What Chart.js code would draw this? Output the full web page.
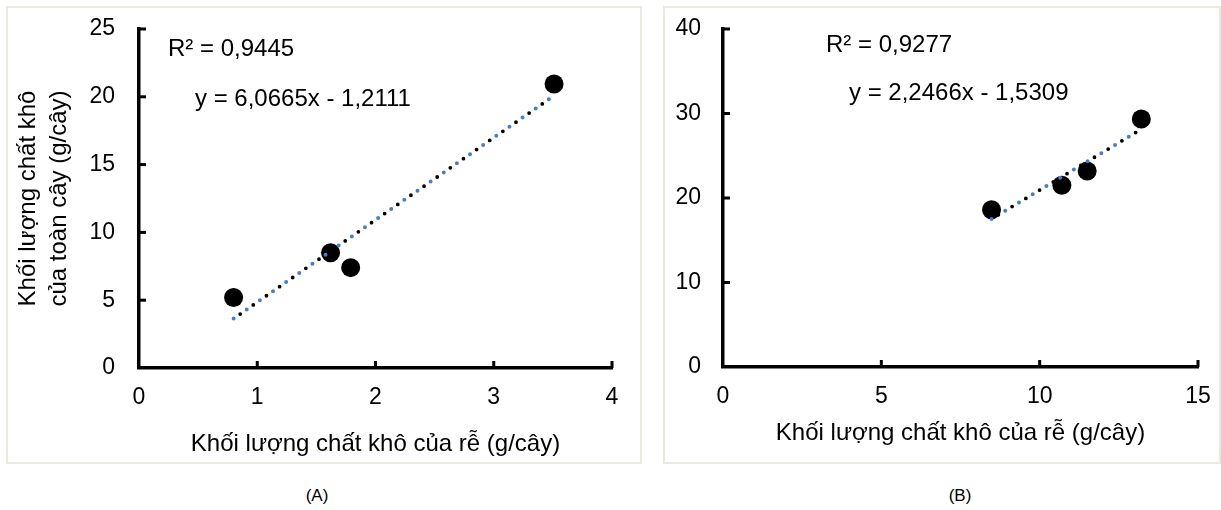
<!DOCTYPE html>
<html><head><meta charset="utf-8">
<script src="https://cdn.jsdelivr.net/npm/chart.js@4"></script>
<style>
body{margin:0;background:#fff;width:1221px;height:510px;position:relative;overflow:hidden;font-family:"Liberation Sans",Arial,sans-serif;}
.panel{position:absolute;border:2px solid #ece9e0;box-sizing:border-box;}
.cv{position:absolute;}
.cap{position:absolute;font-size:17px;transform:translate(-50%,-50%);color:#000;font-family:"Liberation Sans",Arial,sans-serif;}
</style></head><body>
<div class="panel" style="left:6px;top:6px;width:636px;height:458px"></div>
<div class="panel" style="left:663px;top:6px;width:558px;height:458px"></div>
<div class="cv" style="left:0;top:0;"><canvas id="cA" width="650" height="470"></canvas></div>
<div class="cv" style="left:650px;top:0;"><canvas id="cB" width="571" height="470"></canvas></div>
<div class="cap" style="left:317px;top:496px">(A)</div>
<div class="cap" style="left:960px;top:496px">(B)</div>
<script>
// ---- data ----
const rootA = [0.80, 1.62, 1.79, 3.51];
const totalA = [5.2, 8.5, 7.4, 20.95];
const rootB = [8.48, 10.70, 11.50, 13.21];
const totalB = [18.6, 21.5, 23.2, 29.35];
const trendA = [6.0665, -1.2111];   // slope, intercept (shown equation)
const trendB = [2.2466, -1.5309];
const textA = ['R² = 0,9445', 'y = 6,0665x - 1,2111'];
const textB = ['R² = 0,9277', 'y = 2,2466x - 1,5309'];
const xTitle = 'Khối lượng chất khô của rễ (g/cây)';
const yTitleA = ['Khối lượng chất khô', 'của toàn cây (g/cây)'];
const xTicksA = [0, 1, 2, 3, 4];
const yTicksA = [0, 5, 10, 15, 20, 25];
const xTicksB = [0, 5, 10, 15];
const yTicksB = [0, 10, 20, 30, 40];

const FONT = '"Liberation Sans", Arial, sans-serif';

const innerTicks = {
  id: 'innerTicks',
  afterDraw(chart) {
    const {ctx, chartArea, scales} = chart;
    ctx.save();
    ctx.strokeStyle = '#000';
    ctx.lineWidth = 3;
    scales.x.ticks.forEach(t => {
      if (t.value === 0) return;
      const px = scales.x.getPixelForValue(t.value);
      ctx.beginPath(); ctx.moveTo(px, chartArea.bottom); ctx.lineTo(px, chartArea.bottom - 7); ctx.stroke();
    });
    scales.y.ticks.forEach(t => {
      if (t.value === 0) return;
      const py = scales.y.getPixelForValue(t.value);
      ctx.beginPath(); ctx.moveTo(chartArea.left, py); ctx.lineTo(chartArea.left + 7, py); ctx.stroke();
    });
    ctx.restore();
  }
};

const notes = {
  id: 'notes',
  afterDraw(chart, args, opts) {
    const ctx = chart.ctx;
    ctx.save();
    ctx.fillStyle = '#000';
    ctx.font = '24px ' + FONT;
    ctx.textAlign = 'left';
    ctx.textBaseline = 'alphabetic';
    opts.items.forEach(it => ctx.fillText(it.text, it.x, it.y));
    ctx.restore();
  }
};

function build(id, xs, ys, trend, xTicks, yTicks, yTitle, geom, texts) {
  const x0 = Math.min(...xs), x1 = Math.max(...xs);
  const line = [{x: x0, y: trend[0] * x0 + trend[1]}, {x: x1, y: trend[0] * x1 + trend[1]}];
  const tickFont = {family: FONT, size: 23};
  return new Chart(document.getElementById(id), {
    type: 'scatter',
    data: {
      datasets: [
        {data: line, showLine: true, pointRadius: 0, borderColor: '#4a7ec4', borderWidth: 4,
         borderDash: [0, 16], borderDashOffset: 0, borderCapStyle: 'round', order: 1},
        {data: line, showLine: true, pointRadius: 0, borderColor: '#000', borderWidth: 3.8,
         borderDash: [0, 16], borderDashOffset: 8, borderCapStyle: 'round', order: 2},
        {data: xs.map((x, i) => ({x, y: ys[i]})), pointRadius: 9.5, pointHoverRadius: 9.5,
         backgroundColor: '#000', borderWidth: 0, order: 3}
      ]
    },
    options: {
      responsive: false,
      animation: false,
      layout: {padding: {left: 0, top: geom.top, right: geom.right, bottom: 0}},
      plugins: {legend: {display: false}, tooltip: {enabled: false},
        notes: {items: texts}},
      scales: {
        x: {
          type: 'linear', min: xTicks[0], max: xTicks[xTicks.length - 1],
          afterBuildTicks: s => { s.ticks = xTicks.map(v => ({value: v})); },
          afterFit: s => { s.height = geom.xh; s.paddingLeft = 0; s.paddingRight = 0; },
          grid: {display: false, drawTicks: false},
          border: {display: true, width: 3.5, color: '#000'},
          ticks: {color: '#000', font: tickFont, padding: geom.xpad},
          title: {display: true, text: xTitle, color: '#000', font: {family: FONT, size: 24},
                  padding: {top: 0, bottom: geom.xtp}}
        },
        y: {
          type: 'linear', min: yTicks[0], max: yTicks[yTicks.length - 1],
          afterBuildTicks: s => { s.ticks = yTicks.map(v => ({value: v})); },
          afterFit: s => { s.width = geom.yw; s.paddingTop = 0; s.paddingBottom = 0; },
          grid: {display: false, drawTicks: false},
          border: {display: true, width: 3.5, color: '#000'},
          ticks: {color: '#000', font: tickFont, padding: geom.ypad},
          title: {display: !!yTitle, text: yTitle || '', color: '#000',
                  font: {family: FONT, size: 24, lineHeight: 1.3},
                  padding: {top: 13, bottom: 0}}
        }
      }
    },
    plugins: [innerTicks, notes]
  });
}

build('cA', rootA, totalA, trendA, xTicksA, yTicksA, yTitleA,
  {top: 29, right: 38, xh: 102, yw: 139, xpad: 16, ypad: 24, xtp: 11},
  [{text: textA[0], x: 168, y: 56}, {text: textA[1], x: 195, y: 106}]);
build('cB', rootB, totalB, trendB, xTicksB, yTicksB, null,
  {top: 29, right: 23, xh: 103, yw: 73, xpad: 16, ypad: 22, xtp: 22},
  [{text: textB[0], x: 176, y: 52}, {text: textB[1], x: 199, y: 100}]);
</script>
</body></html>
